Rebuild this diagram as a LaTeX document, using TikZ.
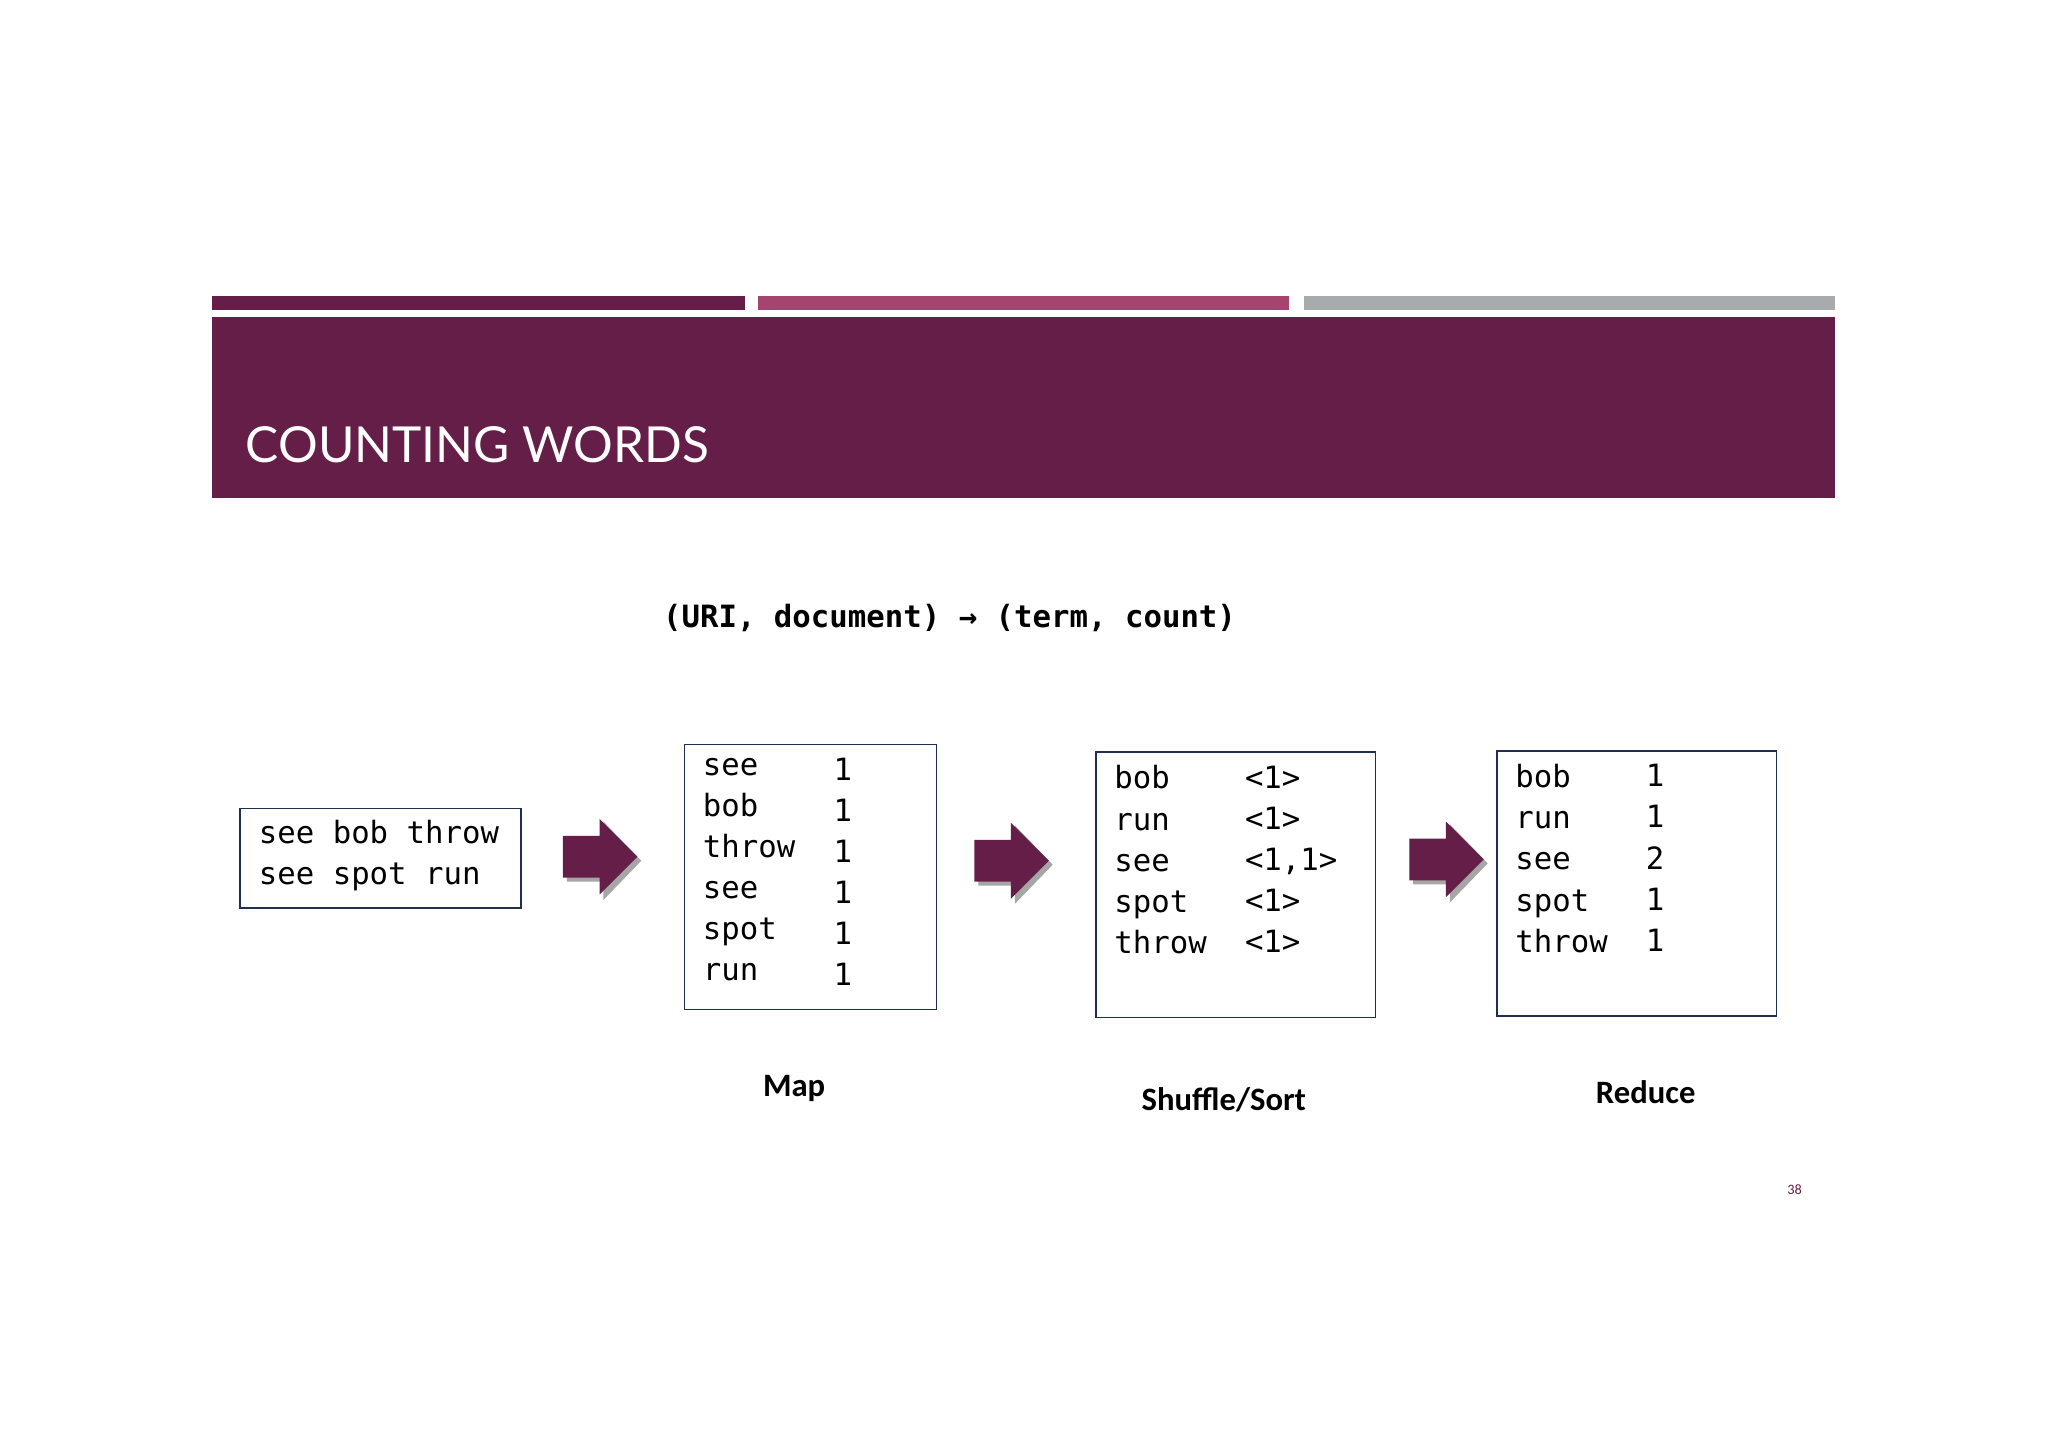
\documentclass[tikz,border=0pt]{standalone}
\usepackage{fontspec}
\setmainfont{Carlito}
\setmonofont{DejaVu Sans Mono}
\newfontfamily\titlefont{Lato}
\definecolor{plum}{HTML}{651E47}
\definecolor{pink}{HTML}{A5456F}
\definecolor{greybar}{HTML}{A7ABAE}
\definecolor{boxline}{HTML}{1F2F4F}
\begin{document}
\begin{tikzpicture}[x=1pt,y=-1pt,
  cbox/.style={draw=boxline,line width=1.3pt},
  mono/.style={font=\fontsize{23.5}{31.5}\selectfont\ttfamily,align=left,anchor=north west,inner sep=0pt,text=black},
  lbl/.style={font=\fontsize{25}{30}\selectfont\bfseries},
  barrow/.style={fill=plum,draw=none}]
\useasboundingbox (0,0) rectangle (1568,1108);
\fill[white] (0,0) rectangle (1568,1108);
\fill[plum] (162,227) rectangle (570,237);
\fill[pink] (580,227) rectangle (987,237);
\fill[greybar] (998,227) rectangle (1405,237);
\fill[plum] (162,243) rectangle (1405,381);
\node[anchor=base west,text=white,inner sep=0pt,font=\fontsize{38}{40}\selectfont\titlefont] (title) at (188,354) {COUNTING WORDS};
\node[font=\fontsize{23.5}{28}\selectfont\ttfamily\bfseries] (formula) at (727,473) {(URI, document) → (term, count)};
% boxes
\draw[cbox] (184,619) rectangle (399,695);
\node[mono] (t1) at (198,628) {see bob throw\\see spot run};
\draw[cbox] (524,570) rectangle (717,773);
\node[mono] (t2a) at (538,580) {see\\bob\\throw\\see\\spot\\run};
\node[mono] (t2b) at (638,580) {1\\1\\1\\1\\1\\1};
\draw[cbox] (839,576) rectangle (1053,779);
\node[mono] (t3a) at (853,586) {bob\\run\\see\\spot\\throw};
\node[mono] (t3b) at (953,586) {<1>\\<1>\\<1,1>\\<1>\\<1>};
\draw[cbox] (1146,575) rectangle (1360,778);
\node[mono] (t4a) at (1160,585) {bob\\run\\see\\spot\\throw};
\node[mono] (t4b) at (1260,585) {1\\1\\2\\1\\1};
% arrows
\foreach \x/\y in {431/656,746/659,1079/658}{
  \fill[black!35] (\x+3,\y-13) -- (\x+31,\y-13) -- (\x+31,\y-27) -- (\x+60,\y+3) -- (\x+31,\y+33) -- (\x+31,\y+19) -- (\x+3,\y+19) -- cycle;
  \fill[plum] (\x,\y-16) -- (\x+28,\y-16) -- (\x+28,\y-29) -- (\x+57,\y) -- (\x+28,\y+29) -- (\x+28,\y+16) -- (\x,\y+16) -- cycle;
}
\node[lbl] (map) at (608,833) {Map};
\node[lbl] (shuf) at (937,842) {Shuffle/Sort};
\node[lbl] (red) at (1260,836) {Reduce};
\node[text=plum,font=\fontsize{11}{12}\selectfont] (pg) at (1374,911) {38};
\end{tikzpicture}
\end{document}
